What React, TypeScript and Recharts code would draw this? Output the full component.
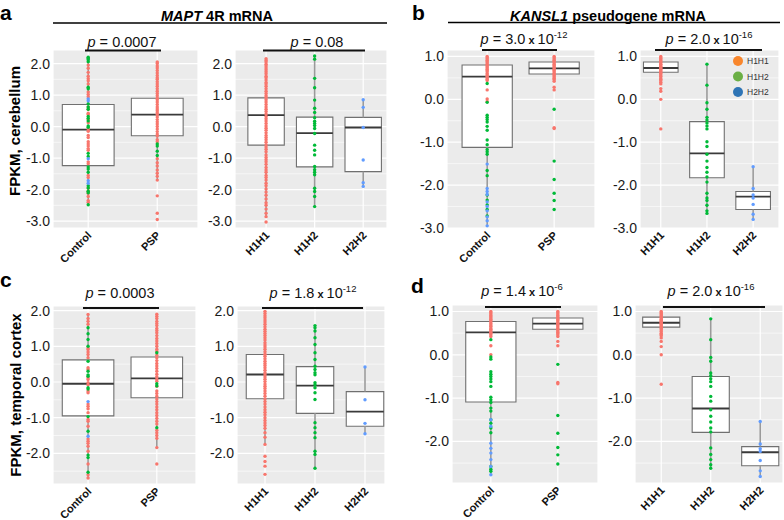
import React from "react";
import {
  ComposedChart,
  Scatter,
  XAxis,
  YAxis,
  CartesianGrid,
  ReferenceArea,
  ReferenceLine,
} from "recharts";

const DIAGNOSIS = ["Control", "PSP"];
const HAPLOTYPES = ["H1H1", "H1H2", "H2H2"];
const POINT_COLORS = ["#F8766D", "#00BA38", "#619CFF"]; // H1H1, H1H2, H2H2
const LEGEND_COLORS = ["#F8862C", "#6BAF45", "#2E74B5"];

// ---- a: MAPT 4R, cerebellum ----
const A_CTRL_H1H1 = [1.95, 1.85, 1.72, 1.6, 1.52, 1.45, 1.35, 1.1, 1.02, 0.95, 0.62, 0.55, 0.42, 0.38, 0.22, 0.12, -0.08, -0.15, -0.28, -0.35, -0.48, -0.55, -0.62, -0.7, -0.75, -1.12, -1.18, -1.55, -1.62, -1.95, -2.05, -2.12, -2.22, -2.35, -2.4];
const A_CTRL_H1H2 = [2.2, 2.16, 2.12, 2.06, 1.25, 1.2, 0.72, 0.62, 0.55, 0.32, 0.26, 0.18, 0.02, -0.02, -0.85, -0.95, -1.28, -1.35, -1.45, -1.88, -1.95, -2.05, -2.1, -2.48];
const A_CTRL_H2H2 = [0.88, 0.82, -1.02, -1.72, -1.8];
const A_PSP_H1H1 = [2.05, 2.0, 1.92, 1.86, 1.78, 1.7, 1.62, 1.55, 1.5, 1.42, 1.35, 1.28, 1.2, 1.12, 1.05, 0.98, 0.9, 0.85, 0.78, 0.7, 0.62, 0.56, 0.5, 0.44, 0.38, 0.3, 0.22, 0.15, 0.08, 0.0, -0.08, -0.16, -0.24, -0.3, -0.42, -0.48, -1.02, -1.15, -1.25, -1.38, -1.48, -1.58, -1.7, -2.2, -2.75, -2.95];
const A_PSP_H1H2 = [-0.55, -0.62, -0.78, -0.92];
const A_DX_BOX = [[-2.48, -1.24, -0.1, 0.7, 2.2], [-1.72, -0.29, 0.38, 0.9, 2.05]]; // lo, q1, median, q3, hi

const A_H1H1 = [2.15, 2.1, 2.05, 1.98, 1.92, 1.86, 1.8, 1.74, 1.68, 1.6, 1.55, 1.48, 1.4, 1.35, 1.28, 1.2, 1.12, 1.05, 0.98, 0.92, 0.85, 0.78, 0.7, 0.62, 0.55, 0.48, 0.4, 0.32, 0.25, 0.18, 0.1, 0.02, -0.05, -0.12, -0.2, -0.28, -0.35, -0.42, -0.5, -0.58, -0.65, -0.72, -0.8, -0.9, -0.98, -1.05, -1.12, -1.2, -1.3, -1.38, -1.45, -1.55, -1.62, -1.7, -1.8, -1.88, -1.98, -2.08, -2.18, -2.3, -2.42, -2.5, -2.62, -2.75, -2.86, -3.03];
const A_H1H2 = [2.24, 2.14, 1.53, 1.23, 0.84, 0.58, 0.45, 0.28, 0.17, 0.1, 0.03, -0.06, -0.22, -0.59, -0.75, -0.9, -1.27, -1.37, -1.45, -1.53, -1.96, -2.06, -2.22, -2.54];
const A_H2H2 = [0.85, 0.61, -0.03, -1.06, -1.78, -1.9];
const A_HAP_BOX = [[-2.86, -0.59, 0.36, 0.91, 2.15], [-2.54, -1.28, -0.21, 0.3, 2.24], [-1.9, -1.43, -0.03, 0.29, 0.85]];

// ---- b: KANSL1 pseudogene, cerebellum ----
const B_CTRL_H1H1 = [1.0, 0.97, 0.94, 0.91, 0.88, 0.85, 0.82, 0.79, 0.76, 0.73, 0.7, 0.67, 0.64, 0.6, 0.57, 0.54, 0.5, 0.47, 0.44, 0.22, 0.01, -0.05];
const B_CTRL_H1H2 = [0.37, -0.07, -0.37, -0.42, -0.47, -0.53, -0.63, -0.72, -0.95, -1.06, -1.17, -1.22, -1.28, -1.66, -1.78, -2.23, -2.35, -2.46, -2.57, -2.72];
const B_CTRL_H2H2 = [-1.51, -2.08, -2.15, -2.22, -2.39, -2.5, -2.6, -2.74, -2.83, -2.95];
const B_PSP_H1H1 = [1.0, 0.97, 0.94, 0.91, 0.88, 0.85, 0.82, 0.79, 0.76, 0.73, 0.7, 0.67, 0.64, 0.61, 0.58, 0.55, 0.52, 0.49, 0.46, 0.42, 0.28, 0.22, -0.66, -0.68];
const B_PSP_H1H2 = [-0.23, -1.44, -1.87, -2.19, -2.36, -2.57];
const B_DX_BOX = [[-2.95, -1.12, 0.53, 0.8, 1.0], [0.42, 0.59, 0.72, 0.87, 1.0]];

const B_H1H1 = [1.0, 0.97, 0.95, 0.92, 0.9, 0.87, 0.85, 0.82, 0.8, 0.77, 0.75, 0.72, 0.7, 0.67, 0.65, 0.62, 0.6, 0.57, 0.54, 0.5, 0.47, 0.44, 0.4, 0.36, 0.25, 0.19, 0.0, -0.69];
const B_H1H2 = [0.82, 0.33, -0.08, -0.23, -0.42, -0.48, -0.55, -0.62, -0.69, -0.99, -1.1, -1.28, -1.44, -1.59, -1.7, -1.81, -1.93, -2.19, -2.3, -2.36, -2.47, -2.6, -2.66];
const B_H2H2 = [-1.57, -2.08, -2.23, -2.3, -2.45, -2.68, -2.8];
const B_HAP_BOX = [[0.36, 0.63, 0.73, 0.87, 1.0], [-2.66, -1.83, -1.26, -0.52, 0.82], [-2.8, -2.57, -2.27, -2.15, -1.57]];

// ---- c: MAPT 4R, temporal cortex ----
const C_CTRL_H1H1 = [1.89, 1.78, 1.7, 1.62, 0.95, 0.91, 0.84, 0.77, 0.68, 0.4, 0.35, 0.12, 0.07, -0.02, -0.08, -0.25, -0.3, -0.62, -0.68, -0.75, -0.86, -1.05, -1.1, -1.24, -1.6, -1.66, -1.72, -1.8, -1.94, -2.3, -2.6, -2.69];
const C_CTRL_H1H2 = [1.52, 1.35, 1.19, 1.0, 0.58, 0.3, 0.2, 0.16, -0.16, -0.2, -0.97, -1.38, -2.05, -2.12, -2.53];
const C_CTRL_H2H2 = [-0.55, -1.52];
const C_PSP_H1H1 = [1.9, 1.84, 1.78, 1.7, 1.64, 1.58, 1.5, 1.44, 1.38, 1.3, 1.22, 1.15, 1.08, 1.0, 0.92, 0.86, 0.75, 0.68, 0.6, 0.52, 0.45, 0.38, 0.3, 0.22, 0.15, 0.08, 0.02, -0.12, -0.25, -0.32, -0.4, -0.48, -0.55, -0.62, -0.7, -0.78, -0.86, -0.94, -1.02, -1.1, -1.18, -1.35, -1.42, -1.5, -1.58, -1.84, -2.3];
const C_PSP_H1H2 = [0.82, -0.05, -0.11, -1.28];
const C_DX_BOX = [[-2.69, -0.95, -0.05, 0.62, 1.89], [-1.84, -0.44, 0.1, 0.7, 1.9]];

const C_H1H1 = [1.98, 1.92, 1.86, 1.8, 1.74, 1.68, 1.62, 1.55, 1.48, 1.42, 1.36, 1.3, 1.24, 1.18, 1.1, 1.04, 0.98, 0.92, 0.85, 0.78, 0.72, 0.65, 0.58, 0.52, 0.46, 0.4, 0.33, 0.26, 0.2, 0.14, 0.08, 0.01, -0.06, -0.12, -0.18, -0.25, -0.32, -0.4, -0.48, -0.55, -0.62, -0.7, -0.78, -0.85, -0.92, -1.0, -1.08, -1.15, -1.22, -1.3, -1.42, -1.55, -1.75, -2.08, -2.23, -2.36, -2.59];
const C_H1H2 = [1.58, 1.52, 1.43, 1.24, 1.05, 0.82, 0.63, 0.44, 0.35, 0.26, 0.2, -0.02, -0.08, -0.16, -0.3, -0.49, -1.14, -1.28, -1.42, -1.56, -1.94, -2.03, -2.42];
const C_H2H2 = [0.42, -0.5, -1.16, -1.45];
const C_HAP_BOX = [[-1.75, -0.47, 0.21, 0.77, 1.98], [-2.42, -0.88, -0.1, 0.43, 1.58], [-1.45, -1.24, -0.83, -0.27, 0.42]];

// ---- d: KANSL1 pseudogene, temporal cortex ----
const D_CTRL_H1H1 = [1.0, 0.97, 0.94, 0.91, 0.88, 0.85, 0.82, 0.79, 0.76, 0.72, 0.69, 0.66, 0.62, 0.59, 0.56, 0.52, 0.49, 0.46, 0.42, 0.21, 0.0];
const D_CTRL_H1H2 = [0.35, -0.05, -0.1, -0.39, -0.45, -0.5, -0.56, -0.62, -0.73, -0.98, -1.04, -1.1, -1.23, -1.3, -1.5, -1.58, -1.69, -1.8, -2.58, -2.64, -2.69];
const D_CTRL_H2H2 = [-1.5, -1.65, -2.04, -2.16, -2.27, -2.42, -2.58, -2.77];
const D_PSP_H1H1 = [1.0, 0.97, 0.94, 0.91, 0.88, 0.85, 0.82, 0.79, 0.76, 0.73, 0.7, 0.67, 0.64, 0.61, 0.58, 0.55, 0.52, 0.49, 0.46, 0.42, 0.31, 0.21, -0.64, -0.67];
const D_PSP_H1H2 = [-0.22, -1.4, -1.81, -2.14, -2.31, -2.52];
const D_DX_BOX = [[-2.77, -1.09, 0.52, 0.77, 1.0], [0.4, 0.59, 0.72, 0.85, 1.0]];

const D_H1H1 = [1.0, 0.97, 0.95, 0.92, 0.9, 0.87, 0.85, 0.82, 0.8, 0.77, 0.75, 0.72, 0.7, 0.67, 0.65, 0.62, 0.6, 0.57, 0.54, 0.5, 0.47, 0.44, 0.39, 0.31, 0.19, 0.0, -0.68];
const D_H1H2 = [0.83, 0.35, -0.06, -0.15, -0.42, -0.48, -0.55, -0.62, -0.73, -0.96, -1.07, -1.27, -1.42, -1.55, -1.69, -1.78, -2.15, -2.3, -2.42, -2.54, -2.62];
const D_H2H2 = [-1.54, -2.06, -2.17, -2.23, -2.44, -2.68, -2.81];
const D_HAP_BOX = [[0.39, 0.64, 0.74, 0.87, 1.0], [-2.62, -1.79, -1.24, -0.5, 0.83], [-2.81, -2.56, -2.25, -2.12, -1.54]];

// p-values above each panel (mantissa, optional exponent)
const P_VALUES = [
  { m: "0.0007" }, { m: "0.08" },
  { m: "3.0", e: "-12" }, { m: "2.0", e: "-16" },
  { m: "0.0003" }, { m: "1.8", e: "-12" },
  { m: "1.4", e: "-6" }, { m: "2.0", e: "-16" },
];

const FONT = "'Liberation Sans', Arial, sans-serif";
const YW = 44;
const XH = 44;
const TOP = 12; // room above the plot so the top tick label is not clipped

const CatTick = (props: any) => {
  const { x, y, payload, labels } = props;
  const tx = x + 4;
  const ty = y + 8;
  return (
    <text x={tx} y={ty} transform={`rotate(-45, ${tx}, ${ty})`} textAnchor="end"
      fontSize={11} fontWeight="bold" fill="#111" fontFamily={FONT}>
      {labels[Math.round(payload.value) - 1]}
    </text>
  );
};

function BoxPanel({ plot, xDomain, yDomain, yTicks, yMinor, labels, boxes, points }: any) {
  const series: any[] = [];
  points.forEach((byGeno: number[][], ci: number) =>
    byGeno.forEach((vals, gi) => {
      if (vals.length) series.push({ key: `${ci}-${gi}`, gi, data: vals.map((v) => ({ x: ci + 1, y: v })) });
    })
  );
  const hw = 0.375;
  return (
    <div style={{ position: "absolute", left: plot.x - YW, top: plot.y - TOP }}>
      <ComposedChart width={plot.w + YW} height={plot.h + XH + TOP} margin={{ top: TOP, right: 0, bottom: 0, left: 0 }}>
        <CartesianGrid fill="#EBEBEB" stroke="#ffffff" strokeWidth={0.6} vertical={false} horizontalValues={yMinor} />
        <CartesianGrid stroke="#ffffff" strokeWidth={1.2} />
        <XAxis type="number" dataKey="x" domain={xDomain} allowDataOverflow ticks={labels.map((_: string, i: number) => i + 1)}
          interval={0} axisLine={false} tickLine={false} tickSize={0} tickMargin={0} height={XH}
          tick={<CatTick labels={labels} />} />
        <YAxis type="number" dataKey="y" domain={yDomain} allowDataOverflow ticks={yTicks} interval={0}
          axisLine={false} tickLine={false} tickSize={0} tickMargin={3} width={YW}
          tickFormatter={(v: number) => v.toFixed(1)} tick={{ fontSize: 14, fill: "#1a1a1a", fontFamily: FONT }} />
        {boxes.map((b: number[], i: number) => (
          <ReferenceArea key={`box${i}`} x1={i + 1 - hw} x2={i + 1 + hw} y1={b[1]} y2={b[3]}
            fill="#ffffff" fillOpacity={1} stroke="#707070" strokeWidth={1.1} />
        ))}
        {boxes.map((b: number[], i: number) => (
          <ReferenceLine key={`wl${i}`} segment={[{ x: i + 1, y: b[0] }, { x: i + 1, y: b[1] }]} stroke="#9a9a9a" strokeWidth={1.6} />
        ))}
        {boxes.map((b: number[], i: number) => (
          <ReferenceLine key={`wh${i}`} segment={[{ x: i + 1, y: b[3] }, { x: i + 1, y: b[4] }]} stroke="#9a9a9a" strokeWidth={1.6} />
        ))}
        {boxes.map((b: number[], i: number) => (
          <ReferenceLine key={`md${i}`} segment={[{ x: i + 1 - hw, y: b[2] }, { x: i + 1 + hw, y: b[2] }]} stroke="#3a3a3a" strokeWidth={1.8} />
        ))}
        {series.map((s) => (
          <Scatter key={s.key} data={s.data} isAnimationActive={false}
            shape={(p: any) => <circle cx={p.cx} cy={p.cy} r={1.7} fill={POINT_COLORS[s.gi]} />} />
        ))}
      </ComposedChart>
    </div>
  );
}

const PText = ({ x, y, m, e }: any) => (
  <text x={x} y={y} textAnchor="middle" fontSize={14.5} fill="#111" fontFamily={FONT}>
    <tspan fontStyle="italic">p</tspan> = {m}
    {e ? <tspan fontWeight="bold" fontSize={11}> x </tspan> : null}
    {e ? "10" : null}
    {e ? <tspan dy={-6} fontSize={9.5}>{e}</tspan> : null}
  </text>
);

export default function App() {
  const aTicks = [-3, -2, -1, 0, 1, 2];
  const aMinor = [-2.5, -1.5, -0.5, 0.5, 1.5];
  const bTicks = [-3, -2, -1, 0, 1];
  const bMinor = [-2.5, -1.5, -0.5, 0.5];
  const cTicks = [-2, -1, 0, 1, 2];
  const cMinor = [-2.5, -1.5, -0.5, 0.5, 1.5];
  const dTicks = [-2, -1, 0, 1];
  const dMinor = [-2.5, -1.5, -0.5, 0.5];

  // [centre x, baseline y, bar x1, bar x2, bar y]
  const pLayout = [
    [122, 46.5, 85, 161, 50.5], [317, 46.5, 263, 365, 50.5],
    [524, 43.5, 482, 557, 50], [709, 43.5, 655, 762, 50],
    [120, 297.5, 83, 159, 308], [313, 297.5, 262, 363, 308],
    [522, 296, 485, 561, 307], [711, 296, 663, 765, 307],
  ];

  return (
    <div style={{ position: "absolute", left: 0, top: 0, width: 784, height: 520, background: "#fff", fontFamily: FONT, overflow: "hidden" }}>
      <BoxPanel plot={{ x: 53, y: 50, w: 145, h: 178 }} xDomain={[0.49, 2.59]} yDomain={[-3.22, 2.43]} yTicks={aTicks} yMinor={aMinor}
        labels={DIAGNOSIS} boxes={A_DX_BOX} points={[[A_CTRL_H1H1, A_CTRL_H1H2, A_CTRL_H2H2], [A_PSP_H1H1, A_PSP_H1H2, []]]} />
      <BoxPanel plot={{ x: 235, y: 50, w: 152, h: 178 }} xDomain={[0.36, 3.49]} yDomain={[-3.22, 2.43]} yTicks={aTicks} yMinor={aMinor}
        labels={HAPLOTYPES} boxes={A_HAP_BOX} points={[[A_H1H1, [], []], [[], A_H1H2, []], [[], [], A_H2H2]]} />
      <BoxPanel plot={{ x: 447, y: 50, w: 148, h: 178 }} xDomain={[0.4, 2.61]} yDomain={[-3.0, 1.15]} yTicks={bTicks} yMinor={bMinor}
        labels={DIAGNOSIS} boxes={B_DX_BOX} points={[[B_CTRL_H1H1, B_CTRL_H1H2, B_CTRL_H2H2], [B_PSP_H1H1, B_PSP_H1H2, []]]} />
      <BoxPanel plot={{ x: 640, y: 50, w: 139, h: 178 }} xDomain={[0.55, 3.56]} yDomain={[-3.0, 1.15]} yTicks={bTicks} yMinor={bMinor}
        labels={HAPLOTYPES} boxes={B_HAP_BOX} points={[[B_H1H1, [], []], [[], B_H1H2, []], [[], [], B_H2H2]]} />
      <BoxPanel plot={{ x: 53, y: 306, w: 143, h: 178 }} xDomain={[0.49, 2.57]} yDomain={[-2.86, 2.13]} yTicks={cTicks} yMinor={cMinor}
        labels={DIAGNOSIS} boxes={C_DX_BOX} points={[[C_CTRL_H1H1, C_CTRL_H1H2, C_CTRL_H2H2], [C_PSP_H1H1, C_PSP_H1H2, []]]} />
      <BoxPanel plot={{ x: 237, y: 306, w: 148, h: 178 }} xDomain={[0.44, 3.4]} yDomain={[-2.86, 2.13]} yTicks={cTicks} yMinor={cMinor}
        labels={HAPLOTYPES} boxes={C_HAP_BOX} points={[[C_H1H1, [], []], [[], C_H1H2, []], [[], [], C_H2H2]]} />
      <BoxPanel plot={{ x: 452, y: 305, w: 146, h: 178 }} xDomain={[0.42, 2.6]} yDomain={[-2.96, 1.15]} yTicks={dTicks} yMinor={dMinor}
        labels={DIAGNOSIS} boxes={D_DX_BOX} points={[[D_CTRL_H1H1, D_CTRL_H1H2, D_CTRL_H2H2], [D_PSP_H1H1, D_PSP_H1H2, []]]} />
      <BoxPanel plot={{ x: 635, y: 305, w: 148, h: 178 }} xDomain={[0.47, 3.46]} yDomain={[-2.96, 1.15]} yTicks={dTicks} yMinor={dMinor}
        labels={HAPLOTYPES} boxes={D_HAP_BOX} points={[[D_H1H1, [], []], [[], D_H1H2, []], [[], [], D_H2H2]]} />

      <svg width={784} height={520} style={{ position: "absolute", left: 0, top: 0, pointerEvents: "none" }}>
        <g fontFamily={FONT} fontWeight="bold" fontSize={21} fill="#000">
          <text x={0} y={19.5}>a</text>
          <text x={412} y={19.5}>b</text>
          <text x={0} y={287}>c</text>
          <text x={411} y={293}>d</text>
        </g>
        <text x={217} y={20.5} textAnchor="middle" fontWeight="bold" fontSize={14.5} fontFamily={FONT}>
          <tspan fontStyle="italic">MAPT</tspan> 4R mRNA
        </text>
        <line x1={53} x2={387} y1={23} y2={23} stroke="#000" strokeWidth={1.5} />
        <text x={608} y={20.5} textAnchor="middle" fontWeight="bold" fontSize={14.5} fontFamily={FONT}>
          <tspan fontStyle="italic">KANSL1</tspan> pseudogene mRNA
        </text>
        <line x1={448} x2={780} y1={22.5} y2={22.5} stroke="#000" strokeWidth={1.5} />

        <text transform="translate(19.5,131) rotate(-90)" textAnchor="middle" fontWeight="bold" fontSize={15} fontFamily={FONT}>FPKM, cerebellum</text>
        <text transform="translate(20.5,395) rotate(-90)" textAnchor="middle" fontWeight="bold" fontSize={15} fontFamily={FONT}>FPKM, temporal cortex</text>

        {P_VALUES.map((p, i) => {
          const [cx, by, x1, x2, ly] = pLayout[i];
          return (
            <g key={i}>
              <PText x={cx} y={by} m={p.m} e={p.e} />
              <line x1={x1} x2={x2} y1={ly} y2={ly} stroke="#111" strokeWidth={2} />
            </g>
          );
        })}

        {HAPLOTYPES.map((h, i) => (
          <g key={h}>
            <circle cx={738} cy={61 + i * 15.5} r={5} fill={LEGEND_COLORS[i]} />
            <text x={747} y={64 + i * 15.5} fontSize={8.5} fill="#333" fontFamily={FONT}>{h}</text>
          </g>
        ))}
      </svg>
    </div>
  );
}
